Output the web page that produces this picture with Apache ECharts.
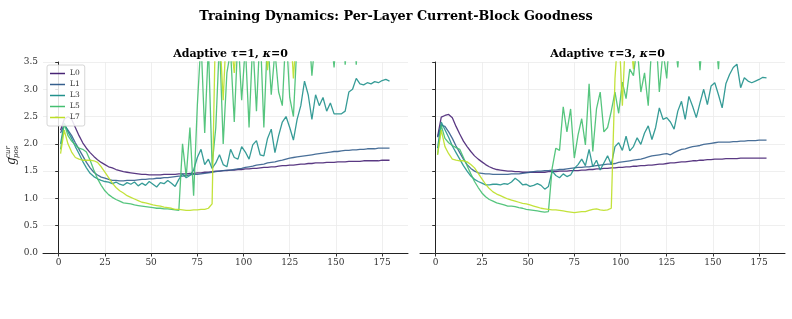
<!DOCTYPE html>
<html>
<head>
<meta charset="utf-8">
<script src="https://cdn.jsdelivr.net/npm/echarts@6/dist/echarts.min.js"></script>
<style>
  html, body { margin: 0; padding: 0; background: #fff; }
  #chart { width: 792px; height: 319px; }
</style>
</head>
<body>
<div id="chart"></div>
<script>
// epochs (every second epoch)
var EPOCHS = [1,3,5,7,9,11,13,15,17,19, 21,23,25,27,29,31,33,35,37,39,
  41,43,45,47,49,51,53,55,57,59, 61,63,65,67,69,71,73,75,77,79,
  81,83,85,87,89,91,93,95,97,99, 101,103,105,107,109,111,113,115,117,119,
  121,123,125,127,129,131,133,135,137,139, 141,143,145,147,149,151,153,155,157,159,
  161,163,165,167,169,171,173,175,177,179];

var LAYERS = ['L0', 'L1', 'L3', 'L5', 'L7'];
var COLORS = ['#482475', '#355f8d', '#21918c', '#44bf70', '#bddf26'];
var PANEL_TAU = ['1', '3'];
var X_TICKS = [0, 25, 50, 75, 100, 125, 150, 175];

// Adaptive tau=1, kappa=0
var tau1_L0 = [2.25,2.45,2.50,2.45,2.30,2.15,2.02,1.92,1.84,1.77, 1.71,1.66,1.62,1.58,1.56,1.53,1.51,1.49,1.48,1.47,
  1.46,1.45,1.44,1.44,1.43,1.43,1.43,1.43,1.44,1.44, 1.44,1.44,1.45,1.45,1.45,1.46,1.46,1.47,1.47,1.48,
  1.48,1.49,1.50,1.50,1.51,1.51,1.52,1.52,1.53,1.53, 1.54,1.54,1.55,1.55,1.56,1.57,1.57,1.58,1.58,1.59,
  1.60,1.60,1.61,1.61,1.62,1.63,1.63,1.64,1.64,1.65, 1.65,1.65,1.66,1.66,1.66,1.67,1.67,1.67,1.68,1.68,
  1.68,1.68,1.69,1.69,1.69,1.69,1.69,1.70,1.70,1.70];
var tau1_L1 = [2.20,2.35,2.25,2.15,2.02,1.90,1.78,1.66,1.56,1.48, 1.43,1.39,1.37,1.35,1.33,1.33,1.32,1.32,1.33,1.33,
  1.33,1.34,1.35,1.35,1.36,1.36,1.37,1.37,1.38,1.38, 1.39,1.40,1.41,1.41,1.42,1.43,1.44,1.44,1.45,1.46,
  1.47,1.48,1.49,1.50,1.51,1.52,1.52,1.53,1.54,1.55, 1.57,1.58,1.59,1.61,1.62,1.63,1.65,1.66,1.67,1.69,
  1.70,1.72,1.74,1.75,1.76,1.77,1.78,1.79,1.80,1.81, 1.82,1.83,1.84,1.85,1.86,1.86,1.87,1.88,1.88,1.89,
  1.89,1.90,1.90,1.91,1.91,1.91,1.92,1.92,1.92,1.92];
var tau1_L3 = [2.00,2.38,2.22,2.10,1.95,1.82,1.68,1.56,1.46,1.40, 1.36,1.33,1.31,1.30,1.27,1.30,1.26,1.24,1.29,1.26,
  1.30,1.23,1.28,1.24,1.31,1.26,1.21,1.29,1.27,1.33, 1.28,1.22,1.35,1.45,1.38,1.42,1.52,1.75,1.90,1.62,
  1.72,1.55,1.65,1.80,1.62,1.58,1.90,1.75,1.72,1.95, 1.85,1.72,1.98,2.06,1.80,1.78,2.10,2.27,1.84,2.15,
  2.40,2.50,2.30,2.07,2.45,2.70,3.15,2.90,2.45,2.90, 2.70,2.85,2.60,2.75,2.55,2.55,2.55,2.60,2.95,3.00,
  3.20,3.10,3.08,3.12,3.10,3.14,3.12,3.16,3.18,3.15];
var tau1_L5 = [1.90,2.37,2.15,2.05,1.98,1.92,1.90,1.85,1.70,1.52, 1.36,1.24,1.14,1.07,1.02,0.98,0.95,0.92,0.91,0.90,
  0.88,0.87,0.86,0.85,0.84,0.83,0.82,0.82,0.81,0.81, 0.80,0.79,0.78,2.00,1.40,2.30,1.05,2.70,3.90,2.20,
  3.80,1.60,2.30,3.90,2.00,3.30,3.70,2.40,4.00,2.80, 3.80,2.30,3.90,2.60,4.10,2.30,4.00,2.90,3.70,2.95,
  2.70,4.10,2.85,2.50,3.90,4.20,3.70,4.30,3.25,4.00, 4.40,3.90,4.50,4.10,3.40,4.30,4.60,3.45,4.20,4.50,
  3.45,4.60,4.20,4.50,4.40,4.70,4.30,4.60,4.50,4.40];
var tau1_L7 = [1.82,2.25,2.00,1.85,1.75,1.72,1.70,1.70,1.70,1.69, 1.66,1.58,1.48,1.38,1.28,1.20,1.14,1.10,1.05,1.02,
  0.99,0.96,0.93,0.92,0.90,0.88,0.87,0.86,0.84,0.83, 0.82,0.80,0.80,0.79,0.78,0.78,0.79,0.79,0.80,0.80,
  0.82,0.90,4.50,4.10,2.80,4.30,3.95,3.30,4.40,4.00, 4.20,3.80,4.50,4.10,3.90,4.30,3.35,4.20,4.60,4.00,
  4.30,3.90,4.40,3.20,4.20,4.50,4.10,4.30,3.90,4.40, 4.20,4.50,4.00,4.30,4.60,4.10,4.40,4.20,4.50,4.30,
  4.40,4.10,4.60,4.30,4.50,4.20,4.40,4.60,4.30,4.50];

// Adaptive tau=3, kappa=0
var tau3_L0 = [2.13,2.49,2.52,2.54,2.48,2.32,2.18,2.05,1.95,1.86, 1.78,1.72,1.67,1.62,1.58,1.55,1.53,1.52,1.51,1.50,
  1.50,1.49,1.49,1.48,1.48,1.48,1.48,1.48,1.48,1.48, 1.49,1.49,1.49,1.50,1.50,1.50,1.51,1.51,1.51,1.52,
  1.52,1.53,1.53,1.54,1.54,1.55,1.55,1.56,1.56,1.57, 1.57,1.58,1.58,1.59,1.59,1.60,1.60,1.61,1.61,1.62,
  1.63,1.63,1.64,1.65,1.65,1.66,1.67,1.67,1.68,1.69, 1.69,1.70,1.70,1.71,1.71,1.72,1.72,1.72,1.73,1.73,
  1.73,1.73,1.74,1.74,1.74,1.74,1.74,1.74,1.74,1.74];
var tau3_L1 = [2.12,2.34,2.32,2.22,2.10,1.96,1.84,1.72,1.62,1.55, 1.50,1.47,1.46,1.45,1.45,1.44,1.44,1.44,1.44,1.44,
  1.45,1.45,1.45,1.46,1.47,1.48,1.49,1.50,1.50,1.51, 1.51,1.52,1.52,1.53,1.53,1.54,1.55,1.56,1.57,1.57,
  1.58,1.58,1.59,1.60,1.61,1.62,1.63,1.63,1.64,1.66, 1.67,1.68,1.69,1.70,1.71,1.72,1.74,1.76,1.78,1.79,
  1.80,1.81,1.82,1.80,1.84,1.87,1.90,1.91,1.93,1.95, 1.96,1.97,1.99,2.00,2.01,2.02,2.03,2.03,2.03,2.03,
  2.04,2.04,2.05,2.05,2.06,2.06,2.06,2.07,2.07,2.07];
var tau3_L3 = [1.92,2.40,2.26,2.12,1.96,1.84,1.72,1.60,1.50,1.41, 1.35,1.31,1.28,1.25,1.25,1.26,1.26,1.25,1.27,1.26,
  1.30,1.37,1.32,1.25,1.26,1.22,1.24,1.27,1.24,1.17, 1.22,1.50,1.42,1.38,1.45,1.40,1.43,1.55,1.62,1.72,
  1.60,1.90,1.58,1.70,1.52,1.65,1.78,1.62,1.95,2.02, 1.88,2.14,1.87,1.95,2.11,1.99,2.20,2.33,2.08,2.30,
  2.66,2.45,2.48,2.40,2.27,2.60,2.78,2.45,2.87,2.69, 2.48,2.75,3.00,2.72,3.06,3.12,2.90,2.66,3.10,3.27,
  3.40,3.46,3.03,3.21,3.15,3.12,3.15,3.18,3.22,3.21];
var tau3_L5 = [1.80,2.34,2.10,2.02,1.97,1.93,1.90,1.75,1.60,1.45, 1.31,1.20,1.10,1.03,0.98,0.95,0.92,0.90,0.88,0.86,
  0.86,0.85,0.83,0.82,0.80,0.79,0.78,0.77,0.76,0.75, 0.76,1.55,1.92,1.88,2.68,2.22,2.64,1.74,2.16,2.46,
  1.98,3.10,1.86,2.64,2.95,2.22,2.30,2.60,2.95,2.56, 3.13,2.83,3.37,3.25,3.80,2.95,3.30,2.70,3.90,4.10,
  2.95,3.70,3.20,4.20,4.00,3.40,4.30,4.50,4.10,3.60, 4.40,3.35,4.20,4.60,4.30,4.10,3.37,4.50,4.20,4.60,
  4.40,4.30,4.70,4.50,4.20,4.60,4.40,4.50,4.30,4.60];
var tau3_L7 = [1.80,2.25,1.95,1.82,1.72,1.70,1.69,1.69,1.67,1.62, 1.56,1.46,1.36,1.26,1.18,1.12,1.08,1.05,1.02,0.99,
  0.97,0.95,0.93,0.91,0.90,0.88,0.86,0.84,0.82,0.81, 0.80,0.79,0.79,0.78,0.77,0.76,0.75,0.74,0.75,0.76,
  0.76,0.78,0.80,0.81,0.79,0.78,0.79,0.82,3.20,4.20, 2.70,4.20,4.00,3.37,4.60,4.30,4.10,4.50,4.20,4.40,
  4.30,4.50,4.10,4.40,4.60,4.20,4.50,4.30,4.60,4.40, 4.50,4.20,4.60,4.40,4.30,4.50,4.20,4.60,4.40,4.50,
  4.30,4.60,4.40,4.50,4.20,4.60,4.40,4.30,4.50,4.60];

var PANELS = [
  [tau1_L0, tau1_L1, tau1_L3, tau1_L5, tau1_L7],
  [tau3_L0, tau3_L1, tau3_L3, tau3_L5, tau3_L7]
];

var FONT = 'DejaVu Serif';
var GRID_W = 365;
var grids = [
  { left: 43, top: 62, width: GRID_W, height: 191 },
  { left: 420, top: 62, width: GRID_W, height: 191 }
];

function pts(ys) {
  return EPOCHS.map(function (x, i) { return [x, ys[i]]; });
}

var xAxes = [], yAxes = [], series = [], titles = [];

titles.push({
  text: 'Training Dynamics: Per-Layer Current-Block Goodness',
  left: 'center', top: 5,
  textStyle: { fontFamily: FONT, fontWeight: 'bold', fontSize: 12.8, color: '#000' }
});

grids.forEach(function (g, p) {
  titles.push({
    text: '{b|Adaptive }{i|τ}{b|=' + PANEL_TAU[p] + ', }{i|κ}{b|=0}',
    left: g.left + GRID_W / 2, top: 44, textAlign: 'center',
    textStyle: {
      rich: {
        b: { fontFamily: FONT, fontWeight: 'bold', fontSize: 11, color: '#000' },
        i: { fontFamily: FONT, fontStyle: 'italic', fontSize: 11, color: '#000' }
      }
    }
  });
  xAxes.push({
    gridIndex: p, type: 'value', min: -8.5, max: 189,
    axisLine: { onZero: false, lineStyle: { color: '#222', width: 1 } },
    axisTick: { show: true, length: 3.5, customValues: X_TICKS, lineStyle: { color: '#333' } },
    axisLabel: { customValues: X_TICKS, fontFamily: FONT, fontSize: 9, color: '#333', margin: 5 },
    splitLine: { show: true, lineStyle: { color: '#ebebeb', width: 0.8 } }
  });
  yAxes.push({
    gridIndex: p, type: 'value', min: 0, max: 3.5, interval: 0.5,
    axisLine: { show: true, lineStyle: { color: '#222', width: 1 } },
    axisTick: { show: true, length: 3.5, lineStyle: { color: '#333' } },
    axisLabel: {
      show: p === 0, fontFamily: FONT, fontSize: 9, color: '#333', margin: 5,
      formatter: function (v) { return v.toFixed(1); }
    },
    splitLine: { show: true, lineStyle: { color: '#ebebeb', width: 0.8 } }
  });
  PANELS[p].forEach(function (ys, k) {
    series.push({
      name: LAYERS[k], type: 'line', xAxisIndex: p, yAxisIndex: p,
      data: pts(ys), showSymbol: false, symbol: 'none', clip: true,
      lineStyle: { color: COLORS[k], width: 1.3, opacity: 0.9 },
      itemStyle: { color: COLORS[k] },
      emphasis: { disabled: true }
    });
  });
});

var chart = echarts.init(document.getElementById('chart'), null, { renderer: 'canvas' });
chart.setOption({
  backgroundColor: '#fff',
  animation: false,
  title: titles,
  grid: grids,
  xAxis: xAxes,
  yAxis: yAxes,
  legend: {
    data: LAYERS, orient: 'vertical', left: 47, top: 65,
    icon: 'rect', itemWidth: 15, itemHeight: 1.5, itemGap: 2,
    padding: [4, 5, 4, 3],
    backgroundColor: 'rgba(255,255,255,0.85)', borderColor: '#ccc', borderWidth: 0.8, borderRadius: 2,
    textStyle: { fontFamily: FONT, fontSize: 7.5, color: '#333', lineHeight: 9 }
  },
  graphic: [{
    type: 'group', x: 12, y: 158, rotation: Math.PI / 2,
    children: [
      { type: 'text', x: -7, y: 0, style: { text: 'g', font: 'italic 12px "DejaVu Serif"', fill: '#222', verticalAlign: 'middle' } },
      { type: 'text', x: 0, y: -4, style: { text: 'cur', font: 'italic 7px "DejaVu Serif"', fill: '#222', verticalAlign: 'middle' } },
      { type: 'text', x: 0, y: 4, style: { text: 'pos', font: 'italic 7px "DejaVu Serif"', fill: '#222', verticalAlign: 'middle' } }
    ]
  }],
  series: series
});
</script>
</body>
</html>
